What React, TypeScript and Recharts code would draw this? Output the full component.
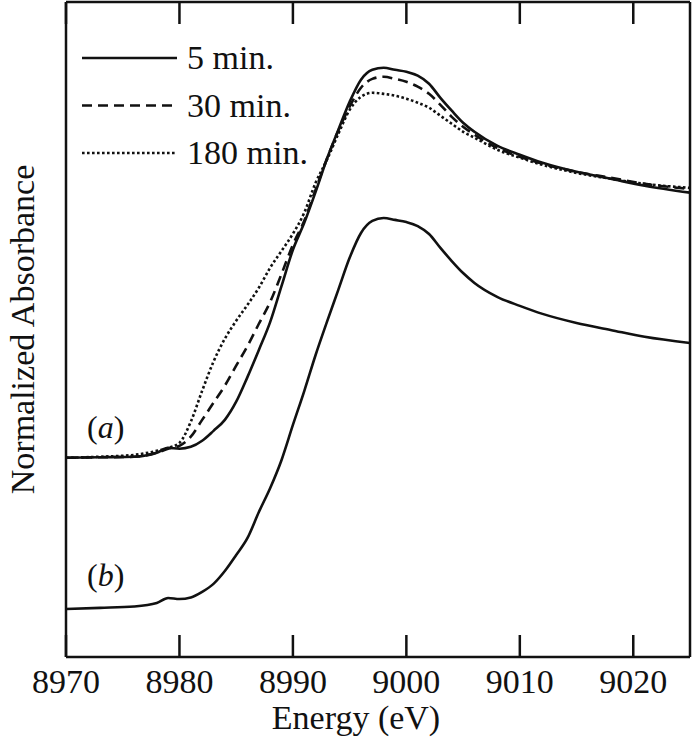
import React from "react";
import { LineChart, Line, XAxis, YAxis, Legend } from "recharts";

// energies (eV) where the curves were sampled
const energies = [
  8970, 8973, 8976, 8978, 8979, 8980, 8981, 8982, 8983, 8984, 8985, 8986,
  8987, 8988, 8989, 8990, 8991, 8992, 8993, 8994, 8995, 8996, 8997, 8998,
  8999, 9000, 9001, 9002, 9003, 9004, 9005, 9006, 9008, 9010, 9012, 9015,
  9018, 9021, 9025,
];

// (a) normalized absorbance, three reaction times
const min5 = [
  0, 0.002, 0.004, 0.019, 0.037, 0.034, 0.041, 0.064, 0.101, 0.142, 0.21,
  0.303, 0.404, 0.509, 0.644, 0.779, 0.88, 0.996, 1.12, 1.228, 1.333, 1.416,
  1.453, 1.461, 1.453, 1.446, 1.431, 1.401, 1.348, 1.3, 1.255, 1.221, 1.169,
  1.135, 1.105, 1.071, 1.045, 1.019, 0.993,
];
const min30 = [
  0, 0.002, 0.004, 0.019, 0.034, 0.045, 0.079, 0.142, 0.206, 0.27, 0.345,
  0.419, 0.502, 0.584, 0.689, 0.798, 0.888, 1.004, 1.12, 1.225, 1.315, 1.386,
  1.419, 1.427, 1.419, 1.408, 1.39, 1.363, 1.322, 1.277, 1.24, 1.21, 1.161,
  1.127, 1.101, 1.071, 1.049, 1.026, 1.007,
];
const min180 = [
  0, 0.004, 0.011, 0.026, 0.037, 0.056, 0.135, 0.251, 0.36, 0.446, 0.513,
  0.573, 0.637, 0.712, 0.775, 0.839, 0.918, 1.03, 1.116, 1.213, 1.303, 1.352,
  1.367, 1.363, 1.356, 1.345, 1.33, 1.311, 1.281, 1.251, 1.221, 1.199, 1.154,
  1.124, 1.097, 1.067, 1.045, 1.026, 1.011,
];

// (b) reference spectrum
const sampleB = [
  0, 0.004, 0.009, 0.022, 0.041, 0.037, 0.043, 0.064, 0.094, 0.142, 0.202,
  0.266, 0.363, 0.453, 0.558, 0.689, 0.816, 0.951, 1.075, 1.195, 1.315, 1.408,
  1.453, 1.464, 1.457, 1.449, 1.434, 1.404, 1.352, 1.303, 1.258, 1.221, 1.169,
  1.135, 1.105, 1.071, 1.045, 1.019, 0.996,
];

// vertical shift of the (a) stack above (b)
const OFFSET_A = 0.566;

const xTicks = [8970, 8980, 8990, 9000, 9010, 9020];
const legendLabels = ["5 min.", "30 min.", "180 min."];
const legendDashes = ["", "10 6", "2.6 2.4"];

const FONT = '"Liberation Serif", "Times New Roman", serif';
const INK = "#111";
const LINE_W = 2.6;

const data = energies.map((e, i) => ({
  e,
  a5: min5[i] + OFFSET_A,
  a30: min30[i] + OFFSET_A,
  a180: min180[i] + OFFSET_A,
  b: sampleB[i],
}));

// bottom tick: inward mark + label underneath
const BottomTick = ({ x, y, payload }: any) => (
  <g>
    <line x1={x} x2={x} y1={y} y2={y - 22} stroke={INK} strokeWidth={2.5} />
    <text
      x={x}
      y={y + 36}
      textAnchor="middle"
      fontSize={34}
      fontFamily={FONT}
      fill={INK}
    >
      {payload.value}
    </text>
  </g>
);

// top tick: inward mark only
const TopTick = ({ x, y }: any) => (
  <line x1={x} x2={x} y1={y} y2={y + 22} stroke={INK} strokeWidth={2.5} />
);

const renderLegend = () => (
  <svg width={380} height={190}>
    {legendLabels.map((label, i) => {
      const cy = 58 + i * 47.5;
      return (
        <g key={label}>
          <line
            x1={82}
            x2={177}
            y1={cy}
            y2={cy}
            stroke={INK}
            strokeWidth={LINE_W}
            strokeDasharray={legendDashes[i] || undefined}
          />
          <text
            x={187}
            y={cy + 11}
            fontSize={34}
            fontFamily={FONT}
            fill={INK}
          >
            {label}
          </text>
        </g>
      );
    })}
  </svg>
);

export default function App() {
  return (
    <div style={{ position: "absolute", left: 0, top: 0, background: "#fff" }}>
      <LineChart
        width={692}
        height={737}
        data={data}
        margin={{ top: 1, right: 1, bottom: 30, left: 65 }}
      >
        <XAxis
          dataKey="e"
          type="number"
          domain={[8970, 9025]}
          ticks={xTicks}
          interval={0}
          height={50}
          tickSize={0}
          tickMargin={0}
          tick={<BottomTick />}
          axisLine={{ stroke: INK, strokeWidth: 2.5 }}
          allowDataOverflow
          label={{
            value: "Energy (eV)",
            position: "bottom",
            offset: -2,
            dx: -22,
            fontSize: 34,
            style: { fontSize: 34, fontFamily: FONT, fill: INK },
          }}
        />
        <XAxis
          xAxisId="top"
          dataKey="e"
          type="number"
          orientation="top"
          domain={[8970, 9025]}
          ticks={xTicks}
          interval={0}
          height={1}
          tickSize={0}
          tickMargin={0}
          tick={<TopTick />}
          axisLine={{ stroke: INK, strokeWidth: 2.5 }}
          allowDataOverflow
        />
        <YAxis
          type="number"
          domain={[-0.18, 2.273]}
          width={1}
          tick={false}
          tickLine={false}
          axisLine={{ stroke: INK, strokeWidth: 2.5 }}
          allowDataOverflow
          label={{
            value: "Normalized Absorbance",
            angle: -90,
            position: "left",
            offset: 43,
            fontSize: 34,
            style: {
              textAnchor: "middle",
              fontSize: 34,
              fontFamily: FONT,
              fill: INK,
            },
          }}
        />
        <YAxis
          yAxisId="right"
          orientation="right"
          type="number"
          domain={[0, 1]}
          width={1}
          tick={false}
          tickLine={false}
          axisLine={{ stroke: INK, strokeWidth: 2.5 }}
        />
        <Legend
          layout="horizontal"
          verticalAlign="middle"
          align="center"
          content={renderLegend}
          wrapperStyle={{ left: 0, top: 0, width: 380, height: 190 }}
        />
        <Line
          dataKey="b"
          type="monotone"
          stroke={INK}
          strokeWidth={LINE_W}
          dot={false}
          isAnimationActive={false}
        />
        <Line
          dataKey="a180"
          type="monotone"
          stroke={INK}
          strokeWidth={LINE_W}
          strokeDasharray="2.6 2.4"
          dot={false}
          isAnimationActive={false}
        />
        <Line
          dataKey="a30"
          type="monotone"
          stroke={INK}
          strokeWidth={LINE_W}
          strokeDasharray="10 6"
          dot={false}
          isAnimationActive={false}
        />
        <Line
          dataKey="a5"
          type="monotone"
          stroke={INK}
          strokeWidth={LINE_W}
          dot={false}
          isAnimationActive={false}
        />
        <text x={87} y={438} fontSize={32} fontFamily={FONT} fill={INK}>
          (<tspan fontStyle="italic">a</tspan>)
        </text>
        <text x={87} y={586} fontSize={32} fontFamily={FONT} fill={INK}>
          (<tspan fontStyle="italic">b</tspan>)
        </text>
      </LineChart>
    </div>
  );
}
